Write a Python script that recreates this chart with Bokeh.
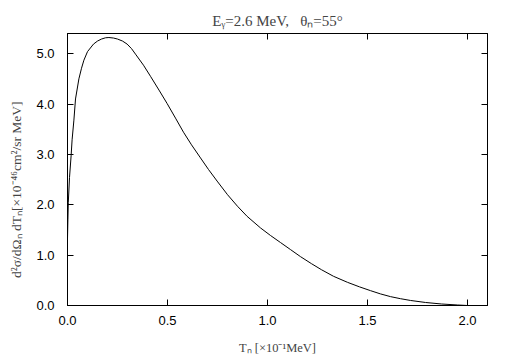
from bokeh.plotting import figure
from bokeh.models import Range1d, LinearAxis, FixedTicker
from bokeh.embed import file_html
from bokeh.resources import INLINE

# Data
T_n = [0.0, 0.002, 0.004, 0.01, 0.018, 0.023, 0.032, 0.04, 0.057, 0.07, 0.082, 0.1, 0.13,
       0.15, 0.17, 0.19, 0.207, 0.23, 0.25, 0.275, 0.298, 0.32, 0.34, 0.38, 0.415, 0.46,
       0.498, 0.54, 0.58, 0.62, 0.665, 0.705, 0.748, 0.8, 0.85, 0.898, 0.965, 1.015,
       1.065, 1.115, 1.165, 1.22, 1.27, 1.33, 1.4, 1.46, 1.515, 1.565, 1.615, 1.665,
       1.715, 1.79, 1.87, 1.95, 2.0]
cross_section = [1.33, 1.7, 2.05, 2.54, 2.97, 3.29, 3.68, 4.1, 4.5, 4.71, 4.87, 5.04, 5.19,
                 5.25, 5.29, 5.315, 5.32, 5.31, 5.29, 5.25, 5.19, 5.1, 4.99, 4.77, 4.55, 4.26,
                 4.01, 3.72, 3.44, 3.19, 2.93, 2.70, 2.47, 2.20, 1.97, 1.77, 1.54, 1.39,
                 1.25, 1.11, 0.97, 0.83, 0.71, 0.58, 0.46, 0.37, 0.295, 0.23, 0.176, 0.135,
                 0.10, 0.06, 0.03, 0.01, 0.0]

x_ticks = [0.0, 0.5, 1.0, 1.5, 2.0]
y_ticks = [0.0, 1.0, 2.0, 3.0, 4.0, 5.0]

title_text = "E\u1d67=2.6 MeV,\u00a0\u00a0\u00a0\u03b8\u2099=55\u00b0"
x_label = "T\u2099 [\u00d710\u207b\u00b9MeV]"
y_label = "d\u00b2\u03c3/d\u03a9\u2099 dT\u2099[\u00d710\u207b\u2074\u2076cm\u00b2/sr MeV]"

SANS = "Liberation Sans"
SERIF = "Liberation Serif"

p = figure(width=497, height=357,
           x_range=Range1d(0, 2.1), y_range=Range1d(0, 5.4),
           output_backend="svg", toolbar_location=None,
           min_border_left=67, min_border_right=10,
           min_border_top=33, min_border_bottom=48,
           title=title_text)

p.title.text_font = SERIF
p.title.text_font_size = "15px"
p.title.text_font_style = "normal"
p.title.align = "center"
p.title.standoff = 9
p.title.offset = 0

p.line(T_n, cross_section, line_color="black", line_width=1)

p.xgrid.visible = False
p.ygrid.visible = False
p.background_fill_color = "white"
p.border_fill_color = "white"
p.outline_line_color = "black"
p.outline_line_width = 1

for ax in p.xaxis:
    ax.ticker = FixedTicker(ticks=x_ticks)
    ax.major_label_overrides = {t: f"{t:.1f}" for t in x_ticks}
    ax.major_tick_in = 6
    ax.major_tick_out = 0
    ax.minor_tick_line_color = None
    ax.axis_line_color = "black"
    ax.major_label_text_font = SANS
    ax.major_label_text_font_size = "13px"
    ax.major_label_text_color = "black"
    ax.major_label_standoff = 10
    ax.axis_label = x_label
    ax.axis_label_text_font = SERIF
    ax.axis_label_text_font_size = "12.5px"
    ax.axis_label_text_font_style = "normal"
    ax.axis_label_standoff = 13

pad = "\u00a0" * 12
for ax in p.yaxis:
    ax.ticker = FixedTicker(ticks=y_ticks)
    ax.major_label_overrides = {t: f"{t:.1f}" for t in y_ticks}
    ax.major_tick_in = 6
    ax.major_tick_out = 0
    ax.minor_tick_line_color = None
    ax.axis_line_color = "black"
    ax.major_label_text_font = SANS
    ax.major_label_text_font_size = "13px"
    ax.major_label_text_color = "black"
    ax.major_label_standoff = 13
    ax.axis_label = y_label + pad
    ax.axis_label_text_font = SERIF
    ax.axis_label_text_font_size = "13.5px"
    ax.axis_label_text_font_style = "normal"
    ax.axis_label_standoff = 9

# mirror axes (ticks only, labels not drawn)
right = LinearAxis(ticker=FixedTicker(ticks=y_ticks), major_tick_in=6, major_tick_out=0,
                   minor_tick_line_color=None, major_label_text_color=None,
                   major_label_standoff=0, axis_line_color="black")
top = LinearAxis(ticker=FixedTicker(ticks=x_ticks), major_tick_in=6, major_tick_out=0,
                 minor_tick_line_color=None, major_label_text_color=None,
                 major_label_standoff=0, axis_line_color="black")
p.add_layout(right, "right")
p.add_layout(top, "above")

open("out.html", "w").write(file_html(p, INLINE))
